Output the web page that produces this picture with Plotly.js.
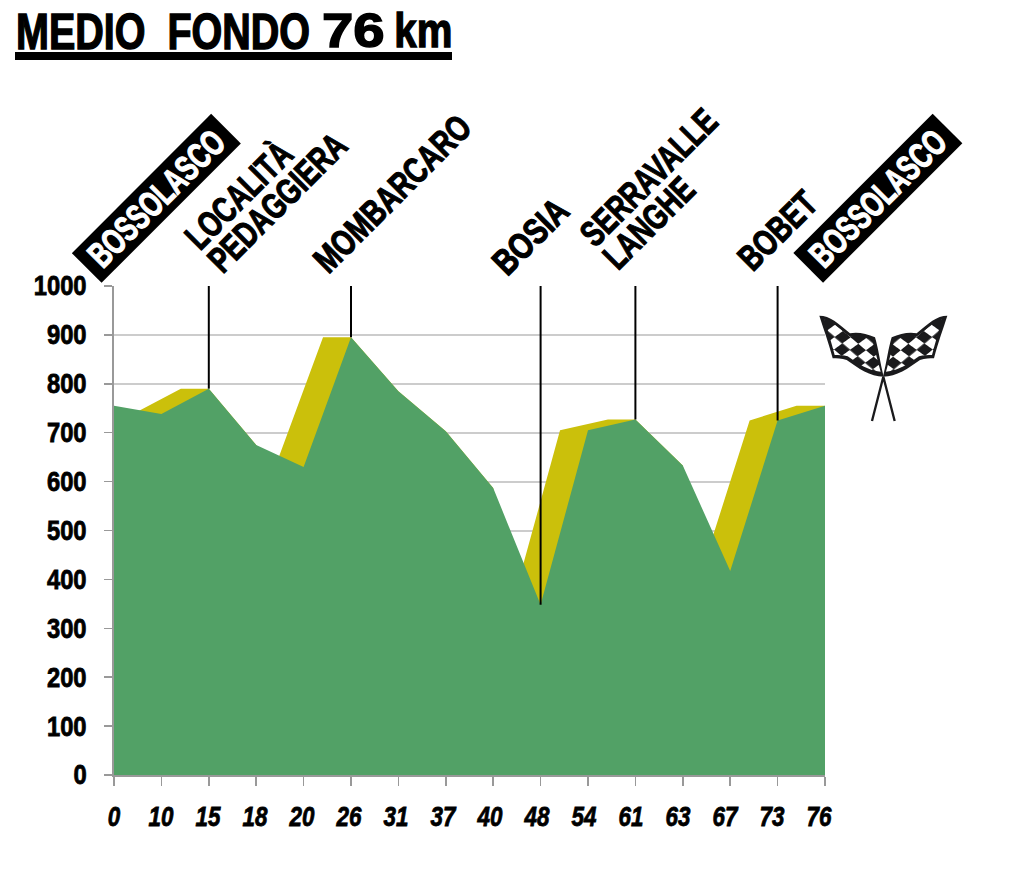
<!DOCTYPE html>
<html><head><meta charset="utf-8">
<script src="https://cdn.plot.ly/plotly-3.0.1.min.js"></script>
<style>html,body{margin:0;padding:0;background:#fff}</style></head><body><div id="c" style="width:1024px;height:876px"></div>
<script>
const kmLabels=['0','10','15','18','20','26','31','37','40','48','54','61','63','67','73','76'];
const elevation=[755,738,790,675,630,895,785,703,587,348,705,727,633,417,725,755];
const shadeX=[0.4,1.41,2,3,3.4,4.41,5,6,7,8,8.4,9.41,10.42,11,12,12.4,13.41,14.4,15];
const shadeY=[738,790,790,675,630,895,895,785,703,587,348,705,727,727,633,417,725,755,755];
const stopIndex=[2,5,9,11,14];
const stopElev=[790,895,348,727,725];
const yTicks=[0,100,200,300,400,500,600,700,800,900,1000];
const placeNames=['LOCALITÀ<br>PEDAGGIERA','MOMBARCARO','BOSIA','SERRAVALLE<br>LANGHE','BOBET'];
const placeCentres=[[271,196],[392,193],[530,236],[665,194],[777,230]];
const startEnd=[[156,198],[877.5,198.5]];
const PL=114,PR=825,PT=286,PB=775;
const px=x=>(x-PL)/(PR-PL), py=y=>(PB-y)/(PB-PT);
const FONT='"Liberation Sans",Arial,sans-serif';
const idx=kmLabels.map((_,i)=>i);
const stopX=[],stopY=[];
stopIndex.forEach((s,i)=>{stopX.push(s,s,null);stopY.push(stopElev[i],1000,null)});
const traces=[
 {x:shadeX,y:shadeY,type:'scatter',mode:'none',fill:'tozeroy',fillcolor:'#CBC00B',hoverinfo:'skip'},
 {x:idx,y:elevation,type:'scatter',mode:'none',fill:'tozeroy',fillcolor:'#52A166',hoverinfo:'skip'},
 {x:stopX,y:stopY,type:'scatter',mode:'lines',line:{color:'#000',width:2},hoverinfo:'skip'}
];
const ann=placeNames.map((t,i)=>({text:'<b>'+t+'</b>',xref:'paper',yref:'paper',x:px(placeCentres[i][0]),y:py(placeCentres[i][1]),xanchor:'center',yanchor:'middle',showarrow:false,textangle:-45,font:{family:FONT,size:36,color:'#000'},align:'left'}));
startEnd.forEach(p=>ann.push({text:'<b>BOSSOLASCO</b>',xref:'paper',yref:'paper',x:px(p[0]),y:py(p[1]),xanchor:'center',yanchor:'middle',showarrow:false,textangle:-45,bgcolor:'#000',width:196,height:41,borderpad:0,font:{family:FONT,size:36,color:'#fff'}}));
ann.push({text:'<b>76</b>',xref:'paper',yref:'paper',x:px(353),y:py(30),xanchor:'center',yanchor:'middle',showarrow:false,font:{family:FONT,size:49,color:'#000'}});
ann.push({text:'<b>km</b>',xref:'paper',yref:'paper',x:px(423),y:py(30),xanchor:'center',yanchor:'middle',showarrow:false,font:{family:FONT,size:49,color:'#000'}});
const outline='M28 32C60 32 85 55 120 85C140 80 170 85 195 97C205 130 210 170 221 215C180 215 145 190 110 165C95 160 80 160 68 160C55 110 40 70 28 32Z';
const inset='M44 44C72 50 95 78 122 96C140 93 168 97 187 104C195 135 202 165 212 200C175 198 145 176 113 154C100 150 85 150 74 150C64 112 54 78 44 44Z';
const flagPart=`<path d="${outline}" fill="#1a1a1c"/><path d="${inset}" fill="url(#chk)"/>`;
const flagSvg=`<svg xmlns="http://www.w3.org/2000/svg" viewBox="0 0 450 375"><defs><pattern id="chk" width="60" height="60" patternUnits="userSpaceOnUse" patternTransform="translate(30 20) rotate(40) skewX(-14)"><rect width="30" height="30" fill="#fff"/><rect x="30" y="30" width="30" height="30" fill="#fff"/><rect x="30" width="30" height="30" fill="#1a1a1c"/><rect y="30" width="30" height="30" fill="#1a1a1c"/></pattern></defs><path d="M220 215L186 348M220 215L254 348" stroke="#1a1a1c" stroke-width="7" fill="none"/>${flagPart}<g transform="translate(440 0) scale(-1 1)">${flagPart}</g></svg>`;
const flag='data:image/svg+xml;utf8,'+encodeURIComponent(flagSvg);
const layout={width:1024,height:876,margin:{l:PL,r:1024-PR,t:PT,b:876-PB},showlegend:false,paper_bgcolor:'#fff',plot_bgcolor:'#fff',
 title:{text:'<b>MEDIO  FONDO</b>',x:16/1024,xanchor:'left',y:1-49/876,yanchor:'bottom',font:{family:FONT,size:49,color:'#000'}},
 xaxis:{range:[0,15],tickmode:'array',tickvals:idx,ticktext:kmLabels.map(k=>'<b><i>'+k+'</i></b>'),ticks:'outside',ticklen:9,tickwidth:1.5,tickcolor:'#999',showgrid:false,showline:true,linecolor:'#999',linewidth:2,zeroline:false,tickfont:{family:FONT,size:28,color:'#000'},ticklabelstandoff:6,tickangle:0},
 yaxis:{range:[0,1000],tickmode:'array',tickvals:yTicks,ticktext:yTicks.map(v=>'<b>'+v+'</b>'),ticks:'outside',ticklen:8,tickwidth:1.5,tickcolor:'#999',showgrid:true,gridcolor:'#ccc',gridwidth:2,showline:true,linecolor:'#999',linewidth:2,zeroline:false,tickfont:{family:FONT,size:27,color:'#000'},ticklabelstandoff:12},
 annotations:ann,
 shapes:[{type:'rect',xref:'paper',yref:'paper',x0:px(15),x1:px(452),y0:py(60),y1:py(52),fillcolor:'#000',line:{width:0}}],
 images:[{source:flag,xref:'paper',yref:'paper',x:px(810),y:py(305),sizex:150/(PR-PL),sizey:125/(PB-PT),xanchor:'left',yanchor:'top',sizing:'stretch',layer:'above'}]
};
function squeeze(t,s,cx,dx,sw,col){
  const base=t.getAttribute('transform')||'';
  t.setAttribute('transform',`${base} translate(${cx+(dx||0)} 0) scale(${s} 1) translate(${-cx} 0)`);
  t.style.stroke=col||'#000';t.style.strokeWidth=(sw||0.8)+'px';t.style.paintOrder='stroke';
}
const annScale={'BOSSOLASCO':.69,'MOMBARCARO':.755,'BOSIA':.79,'BOBET':.75,'76':1.15,'km':.82};
Plotly.newPlot('c',traces,layout,{displayModeBar:false,staticPlot:true}).then(gd=>{
  gd.querySelectorAll('.xtick text').forEach((t,i)=>squeeze(t,.8,+t.getAttribute('x'),-0.4*i,.8));
  gd.querySelectorAll('.ytick text').forEach(t=>squeeze(t,.88,+t.getAttribute('x'),0,.8));
  const tt=gd.querySelector('.gtitle');squeeze(tt,.806,+tt.getAttribute('x'),0,1.4);
  gd.querySelectorAll('.annotation').forEach(a=>{
    a.querySelectorAll('[clip-path]').forEach(e=>e.removeAttribute('clip-path'));
    a.querySelectorAll('[style*="clip-path"]').forEach(e=>e.style.clipPath='');
    const t=a.querySelector('text');
    t.querySelectorAll('tspan.line').forEach((l,i)=>{if(i>0){l.setAttribute('dy','0.9em');l.removeAttribute('y');}});
    const str=t.textContent, b=t.getBBox(), white=str==='BOSSOLASCO';
    let s=annScale[str];
    if(s===undefined) s=.74;
    squeeze(t,s,b.x+b.width/2,0,(str==='76'||str==='km')?1.4:1.2,white?'#fff':'#000');
  });
});
</script></body></html>
